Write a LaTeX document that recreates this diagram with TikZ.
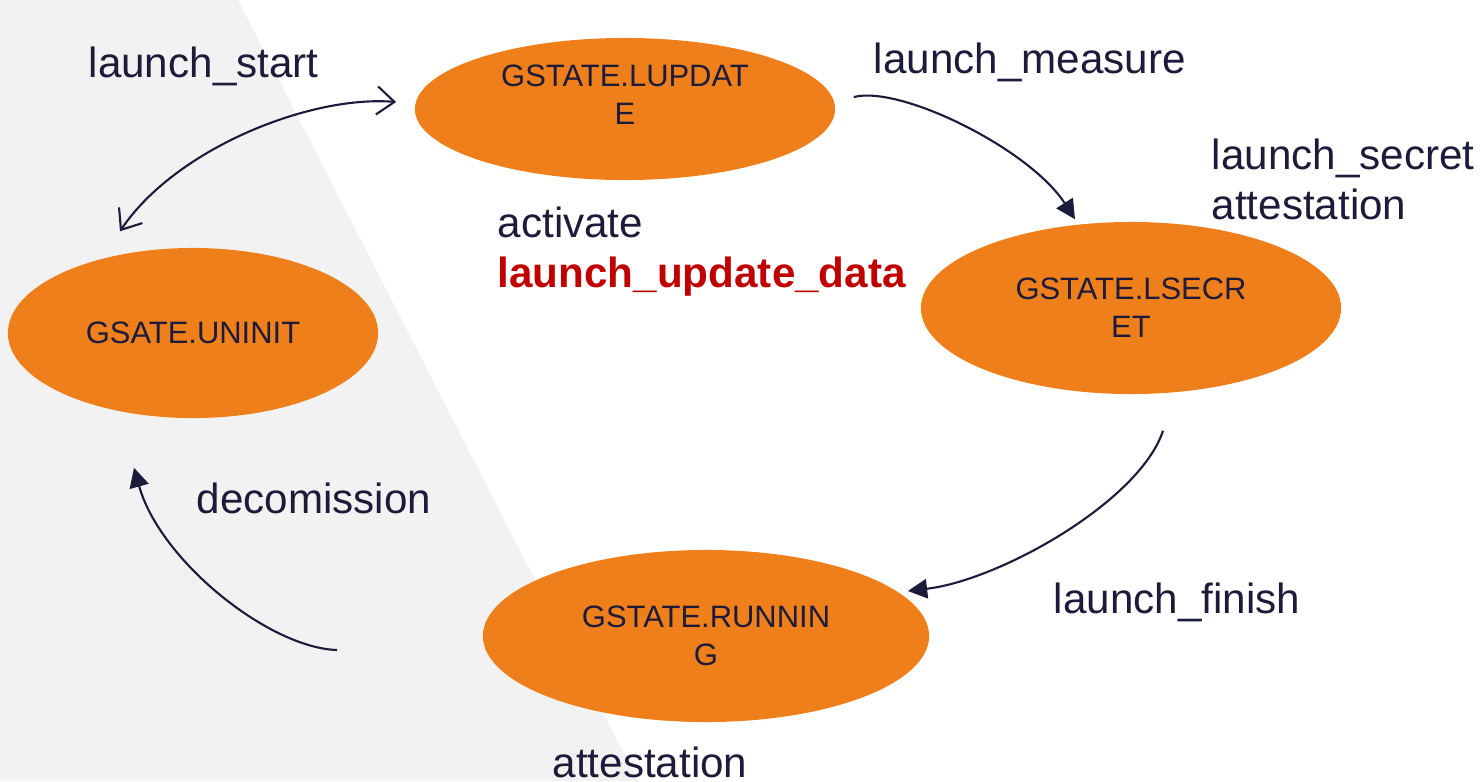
\documentclass[tikz,border=0pt]{standalone}
\usepackage{fontspec}
\setmainfont{Liberation Sans}
\usetikzlibrary{arrows.meta, shapes.geometric, positioning, calc}
\definecolor{gsorange}{RGB}{239,127,26}
\definecolor{gsnavy}{RGB}{28,28,58}
\definecolor{gsred}{RGB}{192,0,0}
\definecolor{gsgray}{RGB}{242,242,242}
\tikzset{
    state/.style={ellipse, fill=gsorange, text=gsnavy, inner sep=0pt, align=center, font=\fontsize{8.8}{10.8}\selectfont},
    line/.style={draw, gsnavy, line width=0.6pt, -{Triangle[length=5.5pt, width=5.5pt]}},
    dline/.style={draw, gsnavy, line width=0.6pt, {Straight Barb[length=5pt, width=8pt]}-{Straight Barb[length=5pt, width=8pt]}},
    note/.style={anchor=base west, inner sep=0pt, text=gsnavy, align=left, font=\fontsize{12}{14.2}\selectfont}
}

\begin{document}
\begin{tikzpicture}[x=0.01cm, y=-0.01cm]
    \useasboundingbox (0,0) rectangle (1482,781);
    % grey backdrop
    \fill[gsgray] (0,0) -- (238,0) -- (638,781) -- (0,781) -- cycle;

    % States
    \node[state, minimum width=4.2cm, minimum height=1.42cm,
          label={[align=center, text=gsnavy, font=\fontsize{8.8}{10.8}\selectfont, yshift=0.14cm]center:{GSTATE.LUPDAT\\E}}] (lupdate) at (625,109) {};
    \node[state, minimum width=3.7cm, minimum height=1.7cm] (uninit) at (193,333) {GSATE.UNINIT};
    \node[state, minimum width=4.2cm, minimum height=1.72cm] (lsecret) at (1131,308) {GSTATE.LSECR\\ET};
    \node[state, minimum width=4.46cm, minimum height=1.72cm] (running) at (706,636) {GSTATE.RUNNIN\\G};

    % Transitions
    \draw[dline] ([shift={(-73,-16)}]uninit.north) .. controls +(55,-82) and +(-87,-7) .. ([shift={(-18,-7)}]lupdate.west);
    \draw[line] ([shift={(18,-12)}]lupdate.east) .. controls +(47,-12) and +(-45,-70) .. ([shift={(-56,-2)}]lsecret.north);
    \draw[line] ([shift={(32,36)}]lsecret.south) .. controls +(-23,70) and +(93,-11) .. ([shift={(-22,-45)}]running.east);
    \draw[line] ([shift={(-145,14)}]running.west) .. controls +(-68,-2) and +(26,93) .. ([shift={(-59,49)}]uninit.south);

    % Labels
    \node[note] (lstart) at (88,77) {launch\_start};
    \node[note] (lmeasure) at (873,73) {launch\_measure};
    \node[note] (lsecretlbl) at (1211,219) {launch\_secret\\attestation};
    \node[note] (lactivate) at (497,287) {activate\\\textcolor{gsred}{\bfseries launch\_update\_data}};
    \node[note] (ldecom) at (196,513) {decomission};
    \node[note] (lfinish) at (1053,613) {launch\_finish};
    \node[note] (lattest) at (552,777) {attestation};
\end{tikzpicture}
\end{document}
